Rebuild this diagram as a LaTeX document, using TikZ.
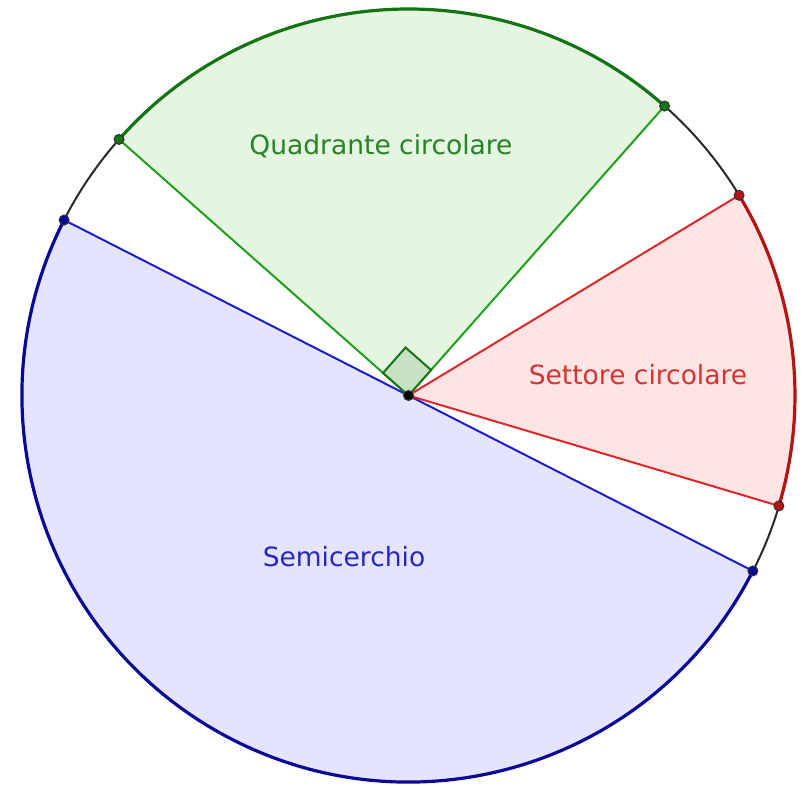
\documentclass[tikz,border=0pt]{standalone}
\usepackage{fontspec}
\setmainfont{DejaVu Sans}
\usetikzlibrary{calc}
\definecolor{gfill}{RGB}{228,245,224}
\definecolor{gline}{RGB}{30,160,30}
\definecolor{gdark}{RGB}{20,115,20}
\definecolor{gtext}{RGB}{40,130,40}
\definecolor{gmark}{RGB}{200,225,195}
\definecolor{rfill}{RGB}{255,228,228}
\definecolor{rline}{RGB}{220,40,40}
\definecolor{rdark}{RGB}{180,20,20}
\definecolor{rtext}{RGB}{215,50,50}
\definecolor{bfill}{RGB}{228,228,255}
\definecolor{bline}{RGB}{30,30,200}
\definecolor{bdark}{RGB}{10,10,150}
\definecolor{btext}{RGB}{40,40,190}
\definecolor{blk}{RGB}{40,40,40}
\begin{document}
\begin{tikzpicture}[x=1pt,y=1pt,
  dot/.style={circle,inner sep=0pt,minimum size=10pt,draw=black!80,line width=1pt},
  lbl/.style={font=\fontsize{26.5}{30}\selectfont}]
\useasboundingbox (0,0) rectangle (801,787);
\coordinate (O) at (408.5,391.5);
\def\R{386.5}
% full circle
\draw[blk,line width=2pt] (O) circle (\R);
% semicircle
\fill[bfill] (O) -- ++(153:\R) arc (153:333:\R) -- cycle;
\draw[bline,line width=2pt] ($(O)+(153:\R)$) -- ($(O)+(333:\R)$);
\draw[bdark,line width=3.2pt] ($(O)+(153:\R)$) arc (153:333:\R);
% quadrant
\fill[gfill] (O) -- ++(48.5:\R) arc (48.5:138.5:\R) -- cycle;
\draw[gline,line width=2pt] ($(O)+(48.5:\R)$) -- (O) -- ($(O)+(138.5:\R)$);
\draw[gdark,line width=3.2pt] ($(O)+(48.5:\R)$) arc (48.5:138.5:\R);
% sector
\fill[rfill] (O) -- ++(-16.6:\R) arc (-16.6:31.2:\R) -- cycle;
\draw[rline,line width=2pt] ($(O)+(-16.6:\R)$) -- (O) -- ($(O)+(31.2:\R)$);
\draw[rdark,line width=3.2pt] ($(O)+(-16.6:\R)$) arc (-16.6:31.2:\R);
% right angle mark
\filldraw[fill=gmark,draw=gdark,line width=2pt]
  (O) -- ++(48.5:34) -- ++(138.5:34) -- ++(228.5:34) -- cycle;
% dots
\node[dot,fill=gdark] (g1) at ($(O)+(48.5:\R)$) {};
\node[dot,fill=gdark] (g2) at ($(O)+(138.5:\R)$) {};
\node[dot,fill=rdark] (r1) at ($(O)+(31.2:\R)$) {};
\node[dot,fill=rdark] (r2) at ($(O)+(-16.6:\R)$) {};
\node[dot,fill=bdark] (b1) at ($(O)+(153:\R)$) {};
\node[dot,fill=bdark] (b2) at ($(O)+(333:\R)$) {};
\node[dot,fill=black] (c) at (O) {};
% labels
\node[lbl,text=gtext] (tq) at (381,641) {Quadrante circolare};
\node[lbl,text=rtext] (ts) at (638,412) {Settore circolare};
\node[lbl,text=btext] (tb) at (344,230) {Semicerchio};
\end{tikzpicture}
\end{document}
